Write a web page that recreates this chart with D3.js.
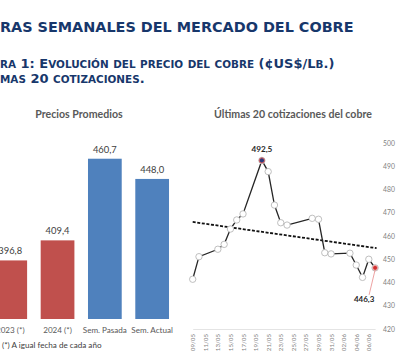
<!DOCTYPE html>
<html lang="es">
<head>
<meta charset="UTF-8">
<title>Cifras semanales del mercado del cobre</title>
<style>
  html, body { margin: 0; padding: 0; background: #fff; overflow: hidden; }
  svg { display: block; }
</style>
</head>
<body>
<svg id="chart" width="400" height="361"></svg>
<script src="https://cdn.jsdelivr.net/npm/d3@7"></script>
<script>
// precios promedios (barras)
const barCats = ['2023 (*)', '2024 (*)', 'Sem. Pasada', 'Sem. Actual'];
const barVals = [396.8, 409.4, 460.7, 448.0];
const barColors = ['#C0504D', '#C0504D', '#4F81BD', '#4F81BD'];

// ultimas cotizaciones (linea)
const lineDates = ['09/05', '10/05', '13/05', '14/05', '15/05', '16/05', '17/05',
  '20/05', '21/05', '22/05', '23/05', '24/05', '28/05', '29/05', '30/05', '31/05',
  '03/06', '04/06', '05/06', '06/06', '07/06'];
const lineVals = [441.4, 451.1, 454.3, 456.4, 463.0, 466.9, 469.5,
  492.5, 487.7, 473.3, 465.7, 464.7, 467.6, 467.2, 452.8, 452.3,
  452.6, 447.5, 442.2, 450.0, 446.3];
const xTickLabels = ['09/05', '11/05', '13/05', '15/05', '17/05', '19/05', '21/05',
  '23/05', '25/05', '27/05', '29/05', '31/05', '02/06', '04/06', '06/06'];
const yTicks = [420, 430, 440, 450, 460, 470, 480, 490, 500];

const es = d3.formatLocale({ decimal: ',', thousands: '.', grouping: [3], currency: ['', ''] });
const fmt = es.format('.1f');
const parseDay = s => d3.utcParse('%d/%m/%Y')(s + '/2024');

const svg = d3.select('#chart');
svg.append('rect').attr('width', 400).attr('height', 361).attr('fill', '#fff');

// encabezado
const navy = '#17376b';
svg.append('text')
  .attr('x', 0).attr('y', 31.5)
  .attr('font-family', 'DejaVu Sans').attr('font-weight', 'bold')
  .attr('font-size', 14.4).attr('fill', navy)
  .text('RAS SEMANALES DEL MERCADO DEL COBRE');

// versalitas hechas a mano: minusculas -> mayusculas mas chicas
function smallCaps(sel, str, big, small) {
  const parts = [];
  for (const ch of str) {
    const lower = ch !== ch.toUpperCase();
    const last = parts[parts.length - 1];
    if (last && last.lower === lower) last.t += ch;
    else parts.push({ t: ch, lower });
  }
  sel.selectAll('tspan').data(parts).join('tspan')
    .attr('font-size', d => d.lower ? small : big)
    .text(d => d.lower ? d.t.toUpperCase() : d.t);
}
const sub = [['ra 1: Evolución del precio del cobre (¢US$/Lb.)', 68], ['mas 20 cotizaciones.', 83]];
sub.forEach(([t, y]) => {
  svg.append('text')
    .attr('x', 0).attr('y', y)
    .attr('font-family', 'DejaVu Sans').attr('font-weight', 'bold')
    .attr('fill', navy)
    .call(smallCaps, t, 13, 10.4);
});

// ---- grafico de barras ----
const xb = d3.scaleBand().domain(barCats).range([-20.2, 182.6])
  .paddingInner(0.287).paddingOuter(0.287);
const yb = d3.scaleLinear().domain([360, 480]).range([319, 128]);

const gb = svg.append('g');
gb.append('text')
  .attr('x', 79).attr('y', 118)
  .attr('text-anchor', 'middle')
  .attr('font-family', 'Lato').attr('font-weight', 'bold')
  .attr('font-size', 10.6).attr('fill', '#595959')
  .text('Precios Promedios');

gb.selectAll('rect.bar').data(barVals).join('rect')
  .attr('class', 'bar')
  .attr('x', (d, i) => xb(barCats[i]))
  .attr('width', xb.bandwidth())
  .attr('y', d => yb(d))
  .attr('height', d => yb(360) - yb(d))
  .attr('fill', (d, i) => barColors[i]);

gb.selectAll('text.val').data(barVals).join('text')
  .attr('class', 'val')
  .attr('x', (d, i) => xb(barCats[i]) + xb.bandwidth() / 2)
  .attr('y', d => yb(d) - 6)
  .attr('text-anchor', 'middle')
  .attr('font-family', 'Lato').attr('font-size', 9.4).attr('fill', '#404040')
  .text(d => fmt(d));

gb.selectAll('text.cat').data(barCats).join('text')
  .attr('class', 'cat')
  .attr('x', d => xb(d) + xb.bandwidth() / 2)
  .attr('y', 333)
  .attr('text-anchor', 'middle')
  .attr('font-family', 'Lato').attr('font-size', 8.1).attr('fill', '#595959')
  .text(d => d);

gb.append('text')
  .attr('x', 2).attr('y', 348)
  .attr('font-family', 'Lato').attr('font-size', 8.1).attr('fill', '#404040')
  .text('(*) A igual fecha de cada año');

// ---- grafico de linea ----
const pts = lineDates.map((d, i) => ({ date: parseDay(d), v: lineVals[i] }));
const xl = d3.scaleUtc().domain(d3.extent(pts, d => d.date)).range([192.7, 375.1]);
const yl = d3.scaleLinear().domain([420, 500]).range([329, 143]);

const gl = svg.append('g');
gl.append('text')
  .attr('x', 293).attr('y', 118)
  .attr('text-anchor', 'middle')
  .attr('font-family', 'Lato').attr('font-weight', 'bold')
  .attr('font-size', 10.6).attr('fill', '#595959')
  .text('Últimas 20 cotizaciones del cobre');

// eje y derecho
const yAxis = d3.axisRight(yl).tickValues(yTicks).tickSize(0).tickPadding(0).tickFormat(d3.format('d'));
gl.append('g').attr('transform', 'translate(383,0)').call(yAxis)
  .call(g => g.select('.domain').remove())
  .call(g => g.selectAll('text')
    .attr('font-family', 'Lato').attr('font-size', 6.8).attr('fill', '#7f7f7f'));

// eje x con fechas verticales
const xAxis = d3.axisBottom(xl).tickValues(xTickLabels.map(parseDay)).tickSize(0)
  .tickFormat(d3.utcFormat('%d/%m'));
gl.append('g').attr('transform', 'translate(0,329)').call(xAxis)
  .call(g => g.select('.domain').attr('stroke', '#e4e4e4'))
  .call(g => g.selectAll('text')
    .attr('font-family', 'Lato').attr('font-size', 6.2).attr('fill', '#7f7f7f')
    .attr('text-anchor', 'end')
    .attr('dy', null)
    .attr('transform', 'translate(2,5) rotate(-90)')
    .attr('y', 0).attr('x', 0));

// linea de tendencia (regresion lineal)
const t0 = +pts[0].date;
const day = 864e5;
const xs = pts.map(p => (p.date - t0) / day), vs = pts.map(p => p.v);
const mx = d3.mean(xs), mv = d3.mean(vs);
const slope = d3.sum(xs, (x, i) => (x - mx) * (vs[i] - mv)) / d3.sum(xs, x => (x - mx) * (x - mx));
const icpt = mv - slope * mx;
const ends = [pts[0].date, pts[pts.length - 1].date];
gl.append('line')
  .attr('x1', xl(ends[0])).attr('x2', xl(ends[1]) + 1.5)
  .attr('y1', yl(icpt)).attr('y2', yl(icpt + slope * ((ends[1] - t0) / day)))
  .attr('stroke', '#111').attr('stroke-width', 1.8).attr('stroke-dasharray', '3,1.6');

const line = d3.line().x(d => xl(d.date)).y(d => yl(d.v));
gl.append('path').datum(pts)
  .attr('d', line).attr('fill', 'none')
  .attr('stroke', '#262626').attr('stroke-width', 1.3);

gl.selectAll('circle.pt').data(pts).join('circle')
  .attr('class', 'pt')
  .attr('cx', d => xl(d.date)).attr('cy', d => yl(d.v))
  .attr('r', 3.2)
  .attr('fill', '#fff').attr('stroke', '#b8b8b8').attr('stroke-width', 0.9);

// maximo y ultimo dato
const peak = pts[d3.maxIndex(pts, d => d.v)];
const last = pts[pts.length - 1];
gl.append('circle')
  .attr('cx', xl(peak.date)).attr('cy', yl(peak.v)).attr('r', 2.6)
  .attr('fill', '#2a3a7a').attr('stroke', '#e06060').attr('stroke-width', 1);
gl.append('text')
  .attr('x', xl(peak.date)).attr('y', yl(peak.v) - 8)
  .attr('text-anchor', 'middle')
  .attr('font-family', 'Lato').attr('font-weight', 'bold')
  .attr('font-size', 8.2).attr('fill', '#262626')
  .text(fmt(peak.v));

gl.append('line')
  .attr('x1', xl(last.date) - 6).attr('y1', yl(last.v) + 27)
  .attr('x2', xl(last.date)).attr('y2', yl(last.v) + 2)
  .attr('stroke', '#e88a8a').attr('stroke-width', 0.8);
gl.append('circle')
  .attr('cx', xl(last.date)).attr('cy', yl(last.v)).attr('r', 2.4)
  .attr('fill', '#d03030').attr('stroke', '#f2a0a0').attr('stroke-width', 0.8);
gl.append('text')
  .attr('x', xl(last.date) - 11).attr('y', yl(last.v) + 34)
  .attr('text-anchor', 'middle')
  .attr('font-family', 'Lato').attr('font-weight', 'bold')
  .attr('font-size', 8).attr('fill', '#262626')
  .text(fmt(last.v));
</script>
</body>
</html>
